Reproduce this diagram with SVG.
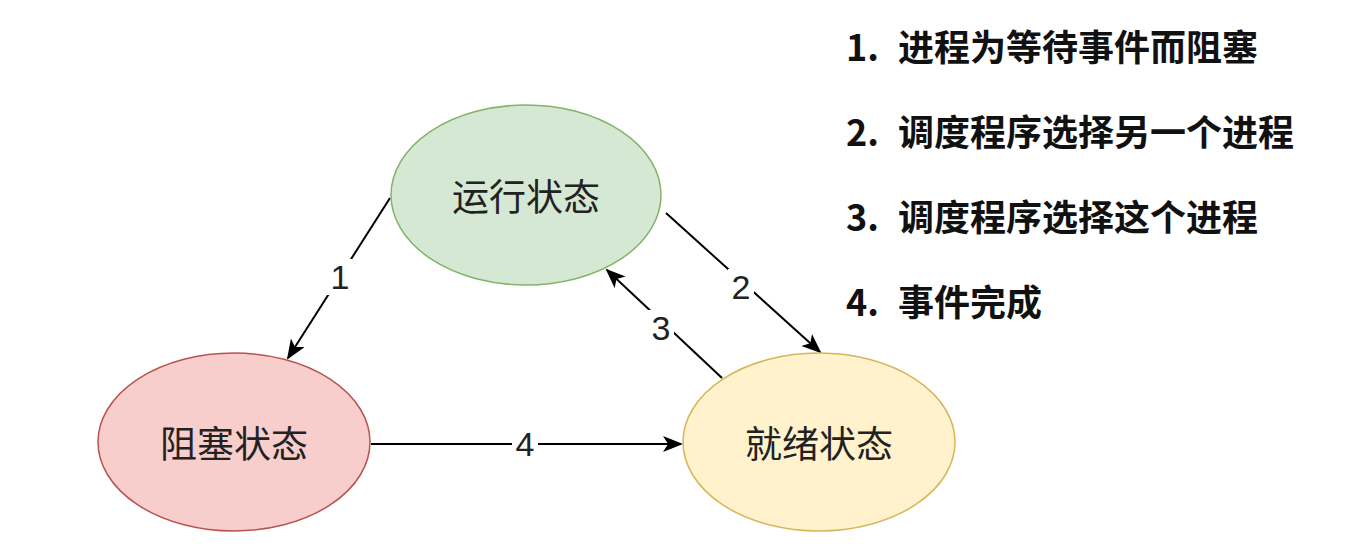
<svg xmlns="http://www.w3.org/2000/svg" width="1371" height="552" viewBox="0 0 1371 552">
<style>
.node-text{font-family:"Noto Sans CJK SC","Noto Sans",sans-serif;font-size:37px;fill:#222;text-anchor:middle;dominant-baseline:central}
.edge{stroke:#000;stroke-width:2;fill:none;marker-end:url(#arr)}
.lbl-bg{fill:#fff}
.lbl{font-family:"Liberation Sans","Noto Sans",sans-serif;font-size:34px;fill:#222;text-anchor:middle;dominant-baseline:central}
.legend{font-family:"Noto Sans CJK SC","Noto Sans",sans-serif;font-size:36px;font-weight:bold;fill:#111}
</style>
<defs>
<marker id="arr" viewBox="0 0 20 16" refX="18" refY="8" markerWidth="20" markerHeight="16" markerUnits="userSpaceOnUse" orient="auto">
<path d="M0,0 L20,8 L0,16 L5,8 Z" fill="#000"/>
</marker>
</defs>
<rect width="1371" height="552" fill="#fff"/>
<g id="connectors">
<line class="edge" x1="390" y1="198" x2="288" y2="358"/>
<line class="edge" x1="666" y1="213" x2="820" y2="352"/>
<line class="edge" x1="722" y1="378" x2="607" y2="270"/>
<line class="edge" x1="371" y1="444" x2="681" y2="444"/>
<rect class="lbl-bg" x="327" y="259" width="26" height="36"/>
<text class="lbl" x="340" y="277">1</text>
<rect class="lbl-bg" x="728" y="269" width="26" height="36"/>
<text class="lbl" x="741" y="287">2</text>
<rect class="lbl-bg" x="648" y="310" width="26" height="36"/>
<text class="lbl" x="661" y="328">3</text>
<rect class="lbl-bg" x="512" y="426" width="26" height="36"/>
<text class="lbl" x="525" y="444">4</text>
</g>
<g id="node-running">
<ellipse cx="526" cy="195" rx="135" ry="90" fill="#d5e8d4" stroke="#82b366" stroke-width="1.5"/>
<text class="node-text" x="526" y="195">运行状态</text>
</g>
<g id="node-blocked">
<ellipse cx="234" cy="442" rx="136" ry="89" fill="#f8cecc" stroke="#b85450" stroke-width="1.5"/>
<text class="node-text" x="234" y="442">阻塞状态</text>
</g>
<g id="node-ready">
<ellipse cx="819" cy="442" rx="136" ry="89" fill="#fff2cc" stroke="#d6b656" stroke-width="1.5"/>
<text class="node-text" x="819" y="442">就绪状态</text>
</g>
<g id="legend">
<text class="legend" x="846" y="61">1.<tspan x="898">进程为等待事件而阻塞</tspan></text>
<text class="legend" x="846" y="146">2.<tspan x="898">调度程序选择另一个进程</tspan></text>
<text class="legend" x="846" y="231">3.<tspan x="898">调度程序选择这个进程</tspan></text>
<text class="legend" x="846" y="316">4.<tspan x="898">事件完成</tspan></text>
</g>
</svg>
